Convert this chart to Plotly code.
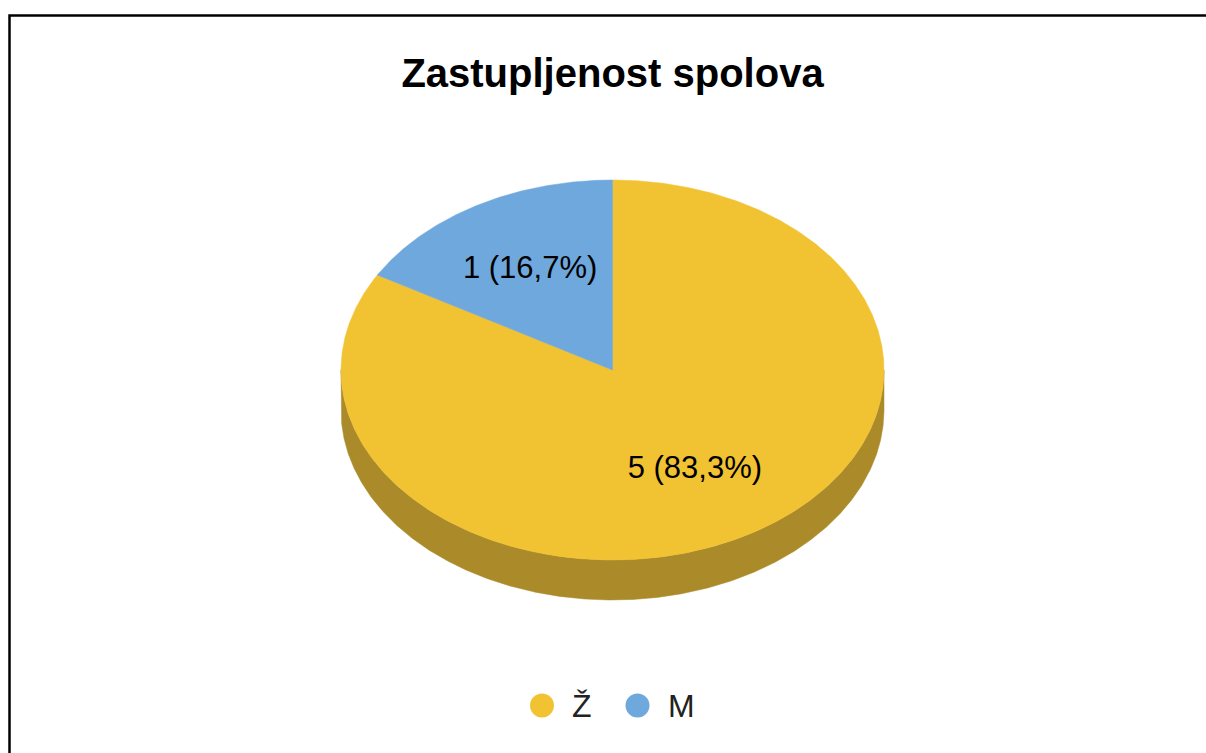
import numpy as np
import plotly.graph_objects as go

# ---- data ----
categories = ["Ž", "M"]
values = [5, 1]
slice_colors = ["#F1C232", "#6FA8DC"]
side_colors = ["#AB8A29", "#4E76A0"]
title_text = "Zastupljenost spolova"

# ---- geometry (pixel space) ----
W, H = 1206, 753
CX, CY, RX, RY, DEPTH = 612.5, 370.0, 271.5, 190.0, 40.0
LABEL_R = 0.607

total = float(sum(values))
fracs = [v / total for v in values]
ends = np.cumsum(fracs) * 360.0
starts = np.concatenate([[0.0], ends[:-1]])


def arc(a0, a1, dy=0.0):
    n = max(2, int(abs(a1 - a0) * 3))
    t = np.radians(np.linspace(a0, a1, n))
    return CX + RX * np.sin(t), CY - RY * np.cos(t) + dy


fig = go.Figure()

# side walls (only the front half, 90..270 deg, is visible)
for i, (a0, a1) in enumerate(zip(starts, ends)):
    s0, s1 = max(a0, 90.0), min(a1, 270.0)
    if s1 <= s0:
        continue
    xt, yt = arc(s0, s1)
    xb, yb = arc(s1, s0, DEPTH)
    fig.add_trace(go.Scatter(
        x=np.concatenate([xt, xb, xt[:1]]), y=np.concatenate([yt, yb, yt[:1]]),
        mode="lines", fill="toself", fillcolor=side_colors[i],
        line=dict(color=side_colors[i], width=0.5),
        hoverinfo="skip", showlegend=False))

# top faces
for i, (a0, a1) in enumerate(zip(starts, ends)):
    xa, ya = arc(a0, a1)
    fig.add_trace(go.Scatter(
        x=np.concatenate([[CX], xa, [CX]]), y=np.concatenate([[CY], ya, [CY]]),
        mode="lines", fill="toself", fillcolor=slice_colors[i],
        line=dict(color=slice_colors[i], width=0.5),
        name=categories[i], hoverinfo="skip", showlegend=False))

# labels
mids = np.radians((starts + ends) / 2.0)
lab_x = CX + LABEL_R * RX * np.sin(mids)
lab_y = CY - LABEL_R * RY * np.cos(mids)
lab_text = [f"{v} ({100.0 * f:.1f}%)".replace(".", ",") for v, f in zip(values, fracs)]
fig.add_trace(go.Scatter(
    x=lab_x, y=lab_y, mode="text", text=lab_text, textposition="middle center",
    textfont=dict(family="Liberation Sans, Arial, sans-serif", size=31, color="#000000"),
    hoverinfo="skip", showlegend=False))

# legend (drawn as layout shapes / annotations)
shapes = [dict(type="rect", xref="x", yref="y", x0=9.5, y0=15.5, x1=W + 20, y1=H + 20,
               line=dict(color="#000000", width=2.5), fillcolor="rgba(0,0,0,0)", layer="above")]
annotations = []
LEG_X0, LEG_Y, LEG_STEP, R_DOT = 542.0, 705.5, 95.5, 12.0
for i, name in enumerate(categories):
    cx = LEG_X0 + i * LEG_STEP
    shapes.append(dict(type="circle", xref="x", yref="y",
                       x0=cx - R_DOT, x1=cx + R_DOT, y0=LEG_Y - R_DOT, y1=LEG_Y + R_DOT,
                       fillcolor=slice_colors[i], line=dict(width=0)))
    annotations.append(dict(x=cx + 28, y=LEG_Y, xref="x", yref="y", text=name,
                            showarrow=False, xanchor="left", yanchor="middle",
                            font=dict(family="Liberation Sans, Arial, sans-serif",
                                      size=32, color="#222222")))

fig.update_layout(
    width=W, height=H, margin=dict(l=0, r=0, t=0, b=0),
    paper_bgcolor="#FFFFFF", plot_bgcolor="#FFFFFF",
    xaxis=dict(range=[0, W], visible=False, fixedrange=True),
    yaxis=dict(range=[H, 0], visible=False, fixedrange=True),
    title=dict(text=title_text, x=0.5079, xanchor="center", y=1 - 73.0 / H, yanchor="middle",
               font=dict(family="Liberation Sans, Arial, sans-serif", size=40,
                         color="#000000", weight="bold")),
    shapes=shapes, annotations=annotations, showlegend=False,
)

fig.write_html("out.html", config={"displayModeBar": False},
               post_script="document.body.style.margin='0';")
